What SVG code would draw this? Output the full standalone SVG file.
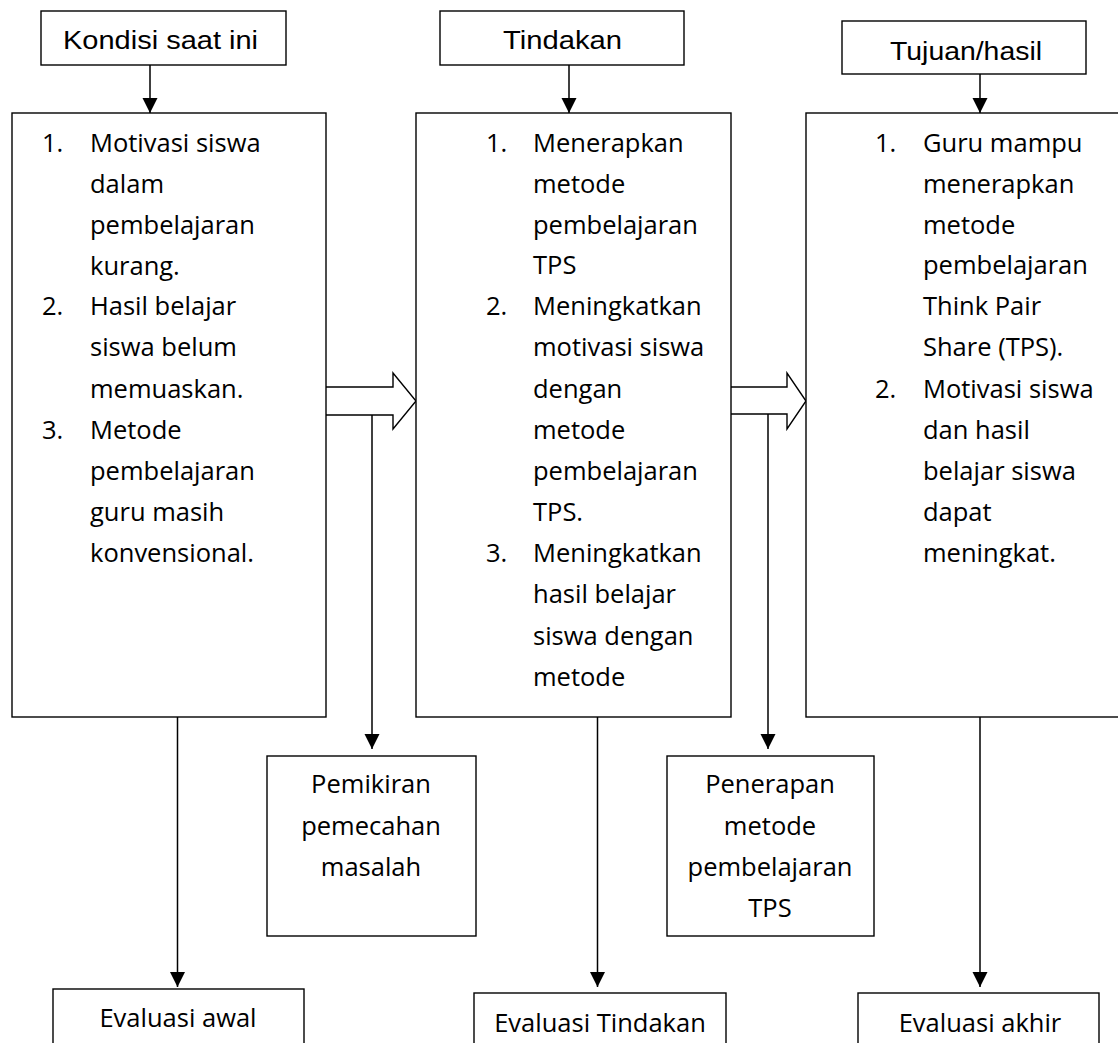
<svg xmlns="http://www.w3.org/2000/svg" width="1118" height="1043" viewBox="0 0 1118 1043">
<style>
  .box { fill: #fff; stroke: #000; stroke-width: 1.4; }
  .ln { fill: none; stroke: #000; stroke-width: 1.5; }
  .blk { fill: #fff; stroke: #000; stroke-width: 1.4; stroke-linejoin: miter; }
  .hd { font-family: "Liberation Sans", Arial, sans-serif; font-size: 25px; fill: #000; }
  .tx { font-family: "Open Sans", "Noto Sans", sans-serif; font-size: 25.5px; fill: #000; }
  .c { text-anchor: middle; }
</style>
<defs>
  <marker id="ah" markerUnits="userSpaceOnUse" markerWidth="16" markerHeight="16" refX="15" refY="7.5" orient="auto">
    <path d="M0,0 L15,7.5 L0,15 Z" fill="#000"/>
  </marker>
</defs>
<rect width="1118" height="1043" fill="#fff"/>

<g id="connectors">
  <line class="ln" x1="150" y1="65" x2="150" y2="113" marker-end="url(#ah)"/>
  <line class="ln" x1="569" y1="65" x2="569" y2="113" marker-end="url(#ah)"/>
  <line class="ln" x1="980" y1="74" x2="980" y2="113" marker-end="url(#ah)"/>
  <line class="ln" x1="177.5" y1="717" x2="177.5" y2="987" marker-end="url(#ah)"/>
  <line class="ln" x1="597.5" y1="717" x2="597.5" y2="987" marker-end="url(#ah)"/>
  <line class="ln" x1="980" y1="717" x2="980" y2="987" marker-end="url(#ah)"/>
  <path class="blk" d="M326,387 H393 V373 L416,401 L393,429 V415 H326"/>
  <path class="blk" d="M731,387 H787 V373 L806,401 L787,429 V414 H731"/>
  <line class="ln" x1="372" y1="415" x2="372" y2="749" marker-end="url(#ah)"/>
  <line class="ln" x1="768" y1="414" x2="768" y2="749" marker-end="url(#ah)"/>
</g>

<g id="kondisi">
  <rect class="box" x="41" y="11" width="245" height="54"/>
  <text class="hd" x="63" y="49" textLength="195" lengthAdjust="spacingAndGlyphs">Kondisi saat ini</text>
</g>
<g id="tindakan">
  <rect class="box" x="440" y="11" width="244" height="54"/>
  <text class="hd" x="503" y="49" textLength="119" lengthAdjust="spacingAndGlyphs">Tindakan</text>
</g>
<g id="tujuan">
  <rect class="box" x="842" y="21" width="244" height="53"/>
  <text class="hd" x="890" y="60" textLength="152" lengthAdjust="spacingAndGlyphs">Tujuan/hasil</text>
</g>

<g id="kondisi-list">
  <rect class="box" x="12" y="113" width="314" height="604"/>
  <text class="tx" x="42" y="152">1.</text>
  <text class="tx" x="42" y="315">2.</text>
  <text class="tx" x="42" y="439">3.</text>
  <text class="tx" x="90" y="152">Motivasi siswa</text>
  <text class="tx" x="90" y="193">dalam</text>
  <text class="tx" x="90" y="234">pembelajaran</text>
  <text class="tx" x="90" y="275">kurang.</text>
  <text class="tx" x="90" y="315">Hasil belajar</text>
  <text class="tx" x="90" y="356">siswa belum</text>
  <text class="tx" x="90" y="398">memuaskan.</text>
  <text class="tx" x="90" y="439">Metode</text>
  <text class="tx" x="90" y="480">pembelajaran</text>
  <text class="tx" x="90" y="521">guru masih</text>
  <text class="tx" x="90" y="562">konvensional.</text>
</g>

<g id="tindakan-list">
  <rect class="box" x="416" y="113" width="315" height="604"/>
  <text class="tx" x="486" y="152">1.</text>
  <text class="tx" x="486" y="315">2.</text>
  <text class="tx" x="486" y="562">3.</text>
  <text class="tx" x="533" y="152">Menerapkan</text>
  <text class="tx" x="533" y="193">metode</text>
  <text class="tx" x="533" y="234">pembelajaran</text>
  <text class="tx" x="533" y="274">TPS</text>
  <text class="tx" x="533" y="315">Meningkatkan</text>
  <text class="tx" x="533" y="356">motivasi siswa</text>
  <text class="tx" x="533" y="398">dengan</text>
  <text class="tx" x="533" y="439">metode</text>
  <text class="tx" x="533" y="480">pembelajaran</text>
  <text class="tx" x="533" y="521">TPS.</text>
  <text class="tx" x="533" y="562">Meningkatkan</text>
  <text class="tx" x="533" y="603">hasil belajar</text>
  <text class="tx" x="533" y="645">siswa dengan</text>
  <text class="tx" x="533" y="686">metode</text>
</g>

<g id="tujuan-list">
  <rect class="box" x="806" y="113" width="330" height="604"/>
  <text class="tx" x="875" y="152">1.</text>
  <text class="tx" x="875" y="398">2.</text>
  <text class="tx" x="923" y="152">Guru mampu</text>
  <text class="tx" x="923" y="193">menerapkan</text>
  <text class="tx" x="923" y="234">metode</text>
  <text class="tx" x="923" y="274">pembelajaran</text>
  <text class="tx" x="923" y="315">Think Pair</text>
  <text class="tx" x="923" y="356">Share (TPS).</text>
  <text class="tx" x="923" y="398">Motivasi siswa</text>
  <text class="tx" x="923" y="439">dan hasil</text>
  <text class="tx" x="923" y="480">belajar siswa</text>
  <text class="tx" x="923" y="521">dapat</text>
  <text class="tx" x="923" y="562">meningkat.</text>
</g>

<g id="pemikiran">
  <rect class="box" x="267" y="756" width="209" height="180"/>
  <text class="tx c" x="371" y="793">Pemikiran</text>
  <text class="tx c" x="371" y="835">pemecahan</text>
  <text class="tx c" x="371" y="876">masalah</text>
</g>

<g id="penerapan">
  <rect class="box" x="667" y="756" width="207" height="180"/>
  <text class="tx c" x="770" y="793">Penerapan</text>
  <text class="tx c" x="770" y="835">metode</text>
  <text class="tx c" x="770" y="876">pembelajaran</text>
  <text class="tx c" x="770" y="917">TPS</text>
</g>

<g id="evaluasi-awal">
  <rect class="box" x="53" y="989" width="251" height="70"/>
  <text class="tx c" x="178" y="1027">Evaluasi awal</text>
</g>
<g id="evaluasi-tindakan">
  <rect class="box" x="474" y="993" width="252" height="66"/>
  <text class="tx c" x="600" y="1032">Evaluasi Tindakan</text>
</g>
<g id="evaluasi-akhir">
  <rect class="box" x="858" y="993" width="241" height="66"/>
  <text class="tx c" x="980" y="1032">Evaluasi akhir</text>
</g>
</svg>
